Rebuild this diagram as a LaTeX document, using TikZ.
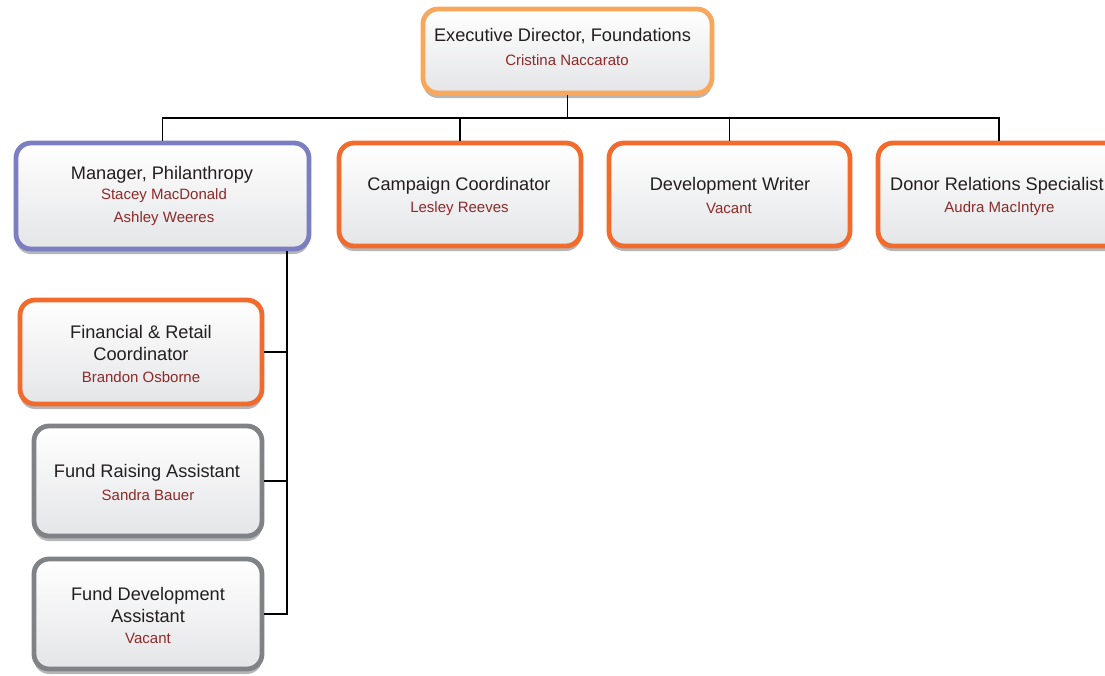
\documentclass[tikz,border=0pt]{standalone}
\usepackage{fontspec}
\setmainfont{Liberation Sans}
\definecolor{cexec}{HTML}{F9A75B}
\definecolor{corange}{HTML}{F26A2C}
\definecolor{cpurple}{HTML}{7B7EC0}
\definecolor{cgray}{HTML}{808285}
\definecolor{cshadow}{HTML}{B5B6B8}
\definecolor{cbot}{HTML}{E4E5E7}
\definecolor{ctitle}{HTML}{231F20}
\definecolor{cname}{HTML}{8E2A2A}
\tikzset{
  box/.style={draw=#1, line width=4.8pt, rounded corners=15pt, top color=white, bottom color=cbot,
    preaction={fill=cshadow, transform canvas={yshift=-5pt}}},
  ttl/.style={text=ctitle, font=\fontsize{18.2}{22}\selectfont, align=center, inner sep=0pt},
  nm/.style={text=cname, font=\fontsize{15}{16}\selectfont, inner sep=0pt},
  conn/.style={line width=1.4pt, black}
}
\begin{document}
\begin{tikzpicture}[x=1pt, y=-1pt]
\useasboundingbox (0,0) rectangle (1105,675);
\clip (0,0) rectangle (1105,675);
\coordinate (bus) at (567.5,118);
% boxes
\node[box=cexec, minimum width=289pt, minimum height=84pt] (exec) at (567.5,51) {};
\node[box=cpurple, minimum width=293pt, minimum height=106pt] (mgr) at (162.5,196) {};
\node[box=corange, minimum width=242pt, minimum height=103pt] (camp) at (460,194.5) {};
\node[box=corange, minimum width=241pt, minimum height=103pt] (dev) at (729.5,194.5) {};
\node[box=corange, minimum width=242pt, minimum height=103pt] (donor) at (999,194.5) {};
\node[box=corange, minimum width=242pt, minimum height=104pt] (fin) at (141,352) {};
\node[box=cgray, minimum width=228pt, minimum height=110pt] (fra) at (148,481) {};
\node[box=cgray, minimum width=228pt, minimum height=110pt] (fda) at (148,614) {};
\coordinate (mtap) at ([xshift=124.5pt]mgr.south);
% connectors
\draw[conn] (exec.south) -- (bus);
\draw[conn] (mgr.north) |- (bus) -| (donor.north);
\draw[conn] (bus) -| (camp.north);
\draw[conn] (bus) -| (dev.north);
\draw[conn] (mtap) |- (fin.east);
\draw[conn] (mtap) |- (fra.east);
\draw[conn] (mtap) |- (fda.east);
% texts
\node[ttl] (exect) at (562.5,36) {Executive Director, Foundations};
\node[nm] (execn) at (567,60) {Cristina Naccarato};
\node[ttl] (mgrt) at (162,174.5) {Manager, Philanthropy};
\node[nm] (mgrn1) at (164,196) {Stacey MacDonald};
\node[nm] (mgrn2) at (164,219) {Ashley Weeres};
\node[ttl] (campt) at (459,185.5) {Campaign Coordinator};
\node[nm] (campn) at (459.5,209) {Lesley Reeves};
\node[ttl] (devt) at (730,185.5) {Development Writer};
\node[nm] (devn) at (729,208) {Vacant};
\node[ttl, anchor=west] (donort) at (890,185.5) {Donor Relations Specialist};
\node[nm] (donorn) at (999.5,209) {Audra MacIntyre};
\node[ttl] (fint) at (141,343) {Financial \& Retail\\Coordinator};
\node[nm] (finn) at (141,377) {Brandon Osborne};
\node[ttl] (frat) at (147,472.5) {Fund Raising Assistant};
\node[nm] (fran) at (148,495) {Sandra Bauer};
\node[ttl] (fdat) at (148,605) {Fund Development\\Assistant};
\node[nm] (fdan) at (148,638) {Vacant};
\end{tikzpicture}
\end{document}
